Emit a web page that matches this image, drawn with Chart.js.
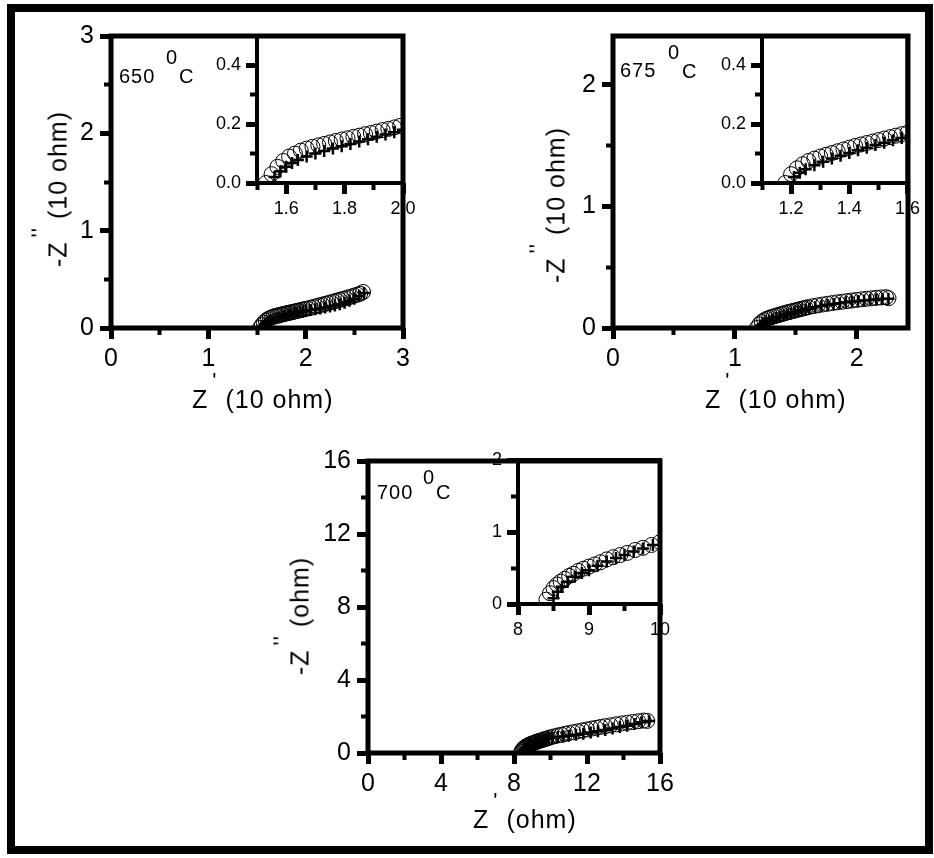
<!DOCTYPE html>
<html>
<head>
    <title>Impedance spectra 650-700 C</title>
    <style>
        body {
            margin: 0;
            padding: 0;
            background: #fff;
        }

        #page {
            position: relative;
            width: 934px;
            height: 858px;
            overflow: hidden;
            background: #fff;
            font-family: 'Liberation Sans', Arial, sans-serif;
            color: #000;
        }

        #page canvas {
            position: absolute;
        }

        .outer {
            position: absolute;
            left: 7px;
            top: 4px;
            width: 926px;
            height: 850px;
            box-sizing: border-box;
            border: 8px solid #000;
        }

        .txt {
            position: absolute;
            white-space: nowrap;
            line-height: 1;
        }

        .temp {
            font-size: 20px;
            letter-spacing: 1px;
        }

        .ttl {
            font-size: 25px;
            letter-spacing: 1px;
        }

        .pr {
            position: relative;
            font-size: 22px;
            top: -20px;
            margin-left: 4px;
        }

        .rot {
            transform: translate(-50%, -50%) rotate(-90deg);
        }
    </style>
</head>
<body>
<div id="page">
    <div class="outer"></div>

    <canvas id="inset650"></canvas>
    <canvas id="inset675"></canvas>
    <canvas id="inset700"></canvas>
    <canvas id="main650"></canvas>
    <canvas id="main675"></canvas>
    <canvas id="main700"></canvas>

    <!-- temperature labels -->
    <div class="txt temp" style="left:119px;top:66px">650</div>
    <div class="txt temp" style="left:166px;top:47px">0</div>
    <div class="txt temp" style="left:179px;top:66px">C</div>

    <div class="txt temp" style="left:620px;top:60px">675</div>
    <div class="txt temp" style="left:668px;top:42px">0</div>
    <div class="txt temp" style="left:682px;top:61px">C</div>

    <div class="txt temp" style="left:377px;top:482px">700</div>
    <div class="txt temp" style="left:423px;top:467px">0</div>
    <div class="txt temp" style="left:436px;top:482px">C</div>

    <!-- axis titles -->
    <div class="txt ttl" style="left:192px;top:387px">Z<span class="pr">'</span> (10 ohm)</div>
    <div class="txt ttl" style="left:705px;top:387px">Z<span class="pr">'</span> (10 ohm)</div>
    <div class="txt ttl" style="left:473px;top:807px">Z<span class="pr">'</span> (ohm)</div>

    <div class="txt ttl rot" style="left:58px;top:189px">-Z<span class="pr">''</span> (10 ohm)</div>
    <div class="txt ttl rot" style="left:556px;top:205px">-Z<span class="pr">''</span> (10 ohm)</div>
    <div class="txt ttl rot" style="left:300px;top:616px">-Z<span class="pr">''</span> (ohm)</div>
</div>

<script src="https://cdn.jsdelivr.net/npm/chart.js"></script>
<script>
    // 650 C  (units of 10 ohm) - open circles = measured, crosses = fit
    var c650x = [1.53, 1.55, 1.57, 1.59, 1.61, 1.63, 1.65, 1.67, 1.69, 1.71, 1.73, 1.75, 1.77, 1.79, 1.81, 1.83, 1.85, 1.87, 1.89, 1.91, 1.93, 1.95, 1.97, 1.99, 2.02, 2.05, 2.08, 2.11, 2.14, 2.17, 2.20, 2.23, 2.26, 2.29, 2.32, 2.35, 2.38, 2.41, 2.44, 2.47, 2.50, 2.53, 2.56, 2.59];
    var c650y = [0.00, 0.03, 0.055, 0.075, 0.09, 0.10, 0.11, 0.117, 0.123, 0.128, 0.133, 0.138, 0.143, 0.148, 0.152, 0.157, 0.161, 0.166, 0.170, 0.175, 0.180, 0.184, 0.189, 0.194, 0.200, 0.208, 0.216, 0.224, 0.232, 0.240, 0.248, 0.256, 0.264, 0.272, 0.281, 0.289, 0.298, 0.306, 0.315, 0.324, 0.333, 0.342, 0.352, 0.37];
    var f650x = [1.56, 1.58, 1.60, 1.62, 1.64, 1.67, 1.70, 1.73, 1.76, 1.79, 1.82, 1.85, 1.88, 1.91, 1.94, 1.97, 2.00, 2.05, 2.10, 2.15, 2.20, 2.25, 2.30, 2.35, 2.40, 2.45, 2.50, 2.55, 2.60];
    var f650y = [0.02, 0.04, 0.055, 0.068, 0.078, 0.09, 0.10, 0.109, 0.117, 0.125, 0.133, 0.141, 0.149, 0.157, 0.165, 0.173, 0.181, 0.186, 0.193, 0.200, 0.210, 0.220, 0.230, 0.245, 0.260, 0.280, 0.300, 0.330, 0.360];

    // 675 C  (units of 10 ohm)
    var c675x = [1.18, 1.20, 1.22, 1.24, 1.26, 1.28, 1.30, 1.32, 1.34, 1.36, 1.38, 1.40, 1.42, 1.44, 1.46, 1.48, 1.50, 1.52, 1.54, 1.56, 1.58, 1.60, 1.64, 1.68, 1.72, 1.76, 1.80, 1.84, 1.88, 1.92, 1.96, 2.00, 2.04, 2.08, 2.12, 2.16, 2.20, 2.24, 2.26];
    var c675y = [0.00, 0.03, 0.05, 0.064, 0.075, 0.083, 0.09, 0.096, 0.102, 0.108, 0.114, 0.12, 0.126, 0.131, 0.136, 0.141, 0.146, 0.151, 0.156, 0.161, 0.166, 0.171, 0.179, 0.186, 0.193, 0.199, 0.205, 0.211, 0.216, 0.221, 0.226, 0.231, 0.236, 0.240, 0.244, 0.248, 0.251, 0.253, 0.245];
    var f675x = [1.21, 1.23, 1.25, 1.28, 1.31, 1.34, 1.37, 1.40, 1.43, 1.46, 1.49, 1.52, 1.55, 1.58, 1.61, 1.66, 1.71, 1.76, 1.81, 1.86, 1.91, 1.96, 2.01, 2.06, 2.11, 2.16, 2.21, 2.26];
    var f675y = [0.02, 0.035, 0.047, 0.06, 0.072, 0.083, 0.093, 0.102, 0.111, 0.12, 0.129, 0.137, 0.145, 0.153, 0.161, 0.171, 0.18, 0.189, 0.197, 0.204, 0.211, 0.217, 0.222, 0.227, 0.231, 0.235, 0.238, 0.24];

    // 700 C  (ohm)
    var c700x = [8.40, 8.45, 8.50, 8.55, 8.60, 8.66, 8.72, 8.78, 8.85, 8.92, 9.00, 9.08, 9.16, 9.25, 9.34, 9.44, 9.54, 9.65, 9.76, 9.88, 10.0, 10.2, 10.4, 10.6, 10.8, 11.0, 11.25, 11.5, 11.75, 12.0, 12.25, 12.5, 12.75, 13.0, 13.3, 13.6, 13.9, 14.2, 14.5, 14.8, 15.1, 15.3];
    var c700y = [0.06, 0.15, 0.22, 0.27, 0.31, 0.35, 0.39, 0.42, 0.46, 0.49, 0.52, 0.55, 0.58, 0.62, 0.65, 0.68, 0.71, 0.75, 0.78, 0.82, 0.86, 0.91, 0.96, 1.0, 1.05, 1.09, 1.14, 1.19, 1.24, 1.29, 1.34, 1.38, 1.43, 1.47, 1.52, 1.57, 1.62, 1.66, 1.70, 1.74, 1.78, 1.76];
    var f700x = [8.50, 8.56, 8.62, 8.70, 8.80, 8.90, 9.00, 9.12, 9.25, 9.38, 9.50, 9.63, 9.76, 9.90, 10.1, 10.4, 10.7, 11.0, 11.4, 11.8, 12.2, 12.6, 13.0, 13.4, 13.8, 14.2, 14.6, 15.0, 15.4];
    var f700y = [0.08, 0.17, 0.24, 0.31, 0.38, 0.43, 0.47, 0.53, 0.59, 0.64, 0.68, 0.73, 0.77, 0.82, 0.85, 0.88, 0.91, 0.95, 1.0, 1.06, 1.12, 1.19, 1.26, 1.34, 1.42, 1.5, 1.59, 1.68, 1.76];

    // tick values / labels
    var main650Ticks = [0, 1, 2, 3];
    var main650Minor = [0.5, 1.5, 2.5];
    var main675Ticks = [0, 1, 2];
    var main675Minor = [0.5, 1.5];
    var main700Ticks = [0, 4, 8, 12, 16];
    var main700Minor = [2, 6, 10, 14];

    var inset650XTicks = [1.6, 1.8, 2.0];
    var inset650XMinor = [1.5, 1.7, 1.9];
    var inset650XLabels = ['1.6', '1.8', '2.0'];
    var inset675XTicks = [1.2, 1.4, 1.6];
    var inset675XMinor = [1.1, 1.3, 1.5];
    var inset675XLabels = ['1.2', '1.4', '1.6'];
    var insetYTicks = [0, 0.2, 0.4];
    var insetYMinor = [0.1, 0.3];
    var insetYLabels = ['0.0', '0.2', '0.4'];

    var inset700XTicks = [8, 9, 10];
    var inset700XMinor = [8.5, 9.5];
    var inset700YTicks = [0, 1, 2];
    var inset700YMinor = [0.5, 1.5];

    var FONT = "'Liberation Sans', Arial, sans-serif";
    var TL = 11;

    var framePlugin = {
        id: 'frame',
        afterDraw: function(chart, args, opts) {
            var a = chart.chartArea;
            var ctx = chart.ctx;
            ctx.save();
            ctx.strokeStyle = '#000';
            ctx.lineWidth = opts.width;
            ctx.strokeRect(a.left, a.top, a.right - a.left, a.bottom - a.top);
            ctx.restore();
        }
    };

    function axis(pos, min, max, major, minor, labels, size, pad, fit) {
        var horiz = pos === 'bottom';
        var isMajor = function(c) { return c.tick && major.indexOf(c.tick.value) >= 0; };
        return {
            type: 'linear',
            position: pos,
            min: min,
            max: max,
            afterBuildTicks: function(s) {
                s.ticks = major.concat(minor).sort(function(a, b) { return a - b; })
                    .map(function(v) { return { value: v }; });
            },
            afterFit: function(s) {
                if (horiz) s.height = fit; else s.width = fit;
            },
            border: { display: false },
            grid: {
                drawOnChartArea: false,
                drawTicks: true,
                tickLength: TL,
                tickColor: '#000',
                tickWidth: function(c) { return isMajor(c) ? 5 : 4; },
                // minor ticks: only the part next to the axis
                tickBorderDash: function(c) {
                    if (isMajor(c)) return [];
                    return horiz ? [7, 50] : [0, TL - 7, 7, 50];
                }
            },
            ticks: {
                autoSkip: false,
                maxRotation: 0,
                padding: pad,
                color: '#000',
                font: { family: FONT, size: size },
                callback: function(v) {
                    var i = major.indexOf(v);
                    return i < 0 ? '' : labels[i];
                }
            }
        };
    }

    function series(xs, ys, cross) {
        return {
            data: xs.map(function(x, i) { return { x: x, y: ys[i] }; }),
            showLine: false,
            pointStyle: cross ? 'cross' : 'circle',
            pointRadius: cross ? 6 : 7.5,
            pointBorderWidth: cross ? 2.5 : 1,
            pointBorderColor: '#000',
            pointBackgroundColor: 'rgba(0,0,0,0)',
            clip: 0,
            order: cross ? 0 : 1
        };
    }

    // box = canvas [x, y, w, h], area = plot area [left, top, right, bottom] in page px
    function makeChart(id, box, area, xr, yr, xt, yt, sets, size, xPad, yPad, frameWidth) {
        var cv = document.getElementById(id);
        cv.width = box[2];
        cv.height = box[3];
        cv.style.left = box[0] + 'px';
        cv.style.top = box[1] + 'px';
        var xFit = box[1] + box[3] - area[3];
        var yFit = area[0] - box[0];
        return new Chart(cv, {
            type: 'scatter',
            data: { datasets: sets },
            options: {
                responsive: false,
                animation: false,
                devicePixelRatio: 1,
                layout: {
                    padding: { left: 0, bottom: 0, top: area[1] - box[1], right: box[0] + box[2] - area[2] }
                },
                plugins: {
                    legend: { display: false },
                    tooltip: { enabled: false },
                    frame: { width: frameWidth }
                },
                scales: {
                    x: axis('bottom', xr[0], xr[1], xt[0], xt[1], xt[2], size, xPad, xFit),
                    y: axis('left', yr[0], yr[1], yt[0], yt[1], yt[2], size, yPad, yFit)
                }
            },
            plugins: [framePlugin]
        });
    }

    function both(cx, cy, fx, fy) {
        return [series(fx, fy, true), series(cx, cy, false)];
    }
    function str(arr) {
        return arr.map(function(v) { return String(v); });
    }

    // insets first (main frames are drawn over them)
    makeChart('inset650', [180, 14, 260, 230], [257, 36, 403, 183], [1.5, 2.0], [0, 0.5],
        [inset650XTicks, inset650XMinor, inset650XLabels], [insetYTicks, insetYMinor, insetYLabels],
        both(c650x, c650y, f650x, f650y), 18, 4, 5, 4);
    makeChart('inset675', [690, 14, 234, 230], [762, 36, 908, 183], [1.1, 1.6], [0, 0.5],
        [inset675XTicks, inset675XMinor, inset675XLabels], [insetYTicks, insetYMinor, insetYLabels],
        both(c675x, c675y, f675x, f675y), 18, 4, 5, 4);
    makeChart('inset700', [440, 440, 250, 200], [518, 460, 660, 604], [8, 10], [0, 2],
        [inset700XTicks, inset700XMinor, str(inset700XTicks)], [inset700YTicks, inset700YMinor, str(inset700YTicks)],
        both(c700x, c700y, f700x, f700y), 18, 4, 5, 4);

    makeChart('main650', [16, 14, 424, 416], [111, 36, 403, 328], [0, 3], [0, 3],
        [main650Ticks, main650Minor, str(main650Ticks)], [main650Ticks, main650Minor, str(main650Ticks)],
        both(c650x, c650y, f650x, f650y), 25, 5, 6, 5);
    makeChart('main675', [450, 14, 474, 416], [613, 36, 908, 328], [0, 2.42], [0, 2.4],
        [main675Ticks, main675Minor, str(main675Ticks)], [main675Ticks, main675Minor, str(main675Ticks)],
        both(c675x, c675y, f675x, f675y), 25, 5, 6, 5);
    makeChart('main700', [250, 440, 440, 400], [368, 460, 660, 753], [0, 16], [0, 16],
        [main700Ticks, main700Minor, str(main700Ticks)], [main700Ticks, main700Minor, str(main700Ticks)],
        both(c700x, c700y, f700x, f700y), 25, 5, 6, 5);
</script>
</body>
</html>
